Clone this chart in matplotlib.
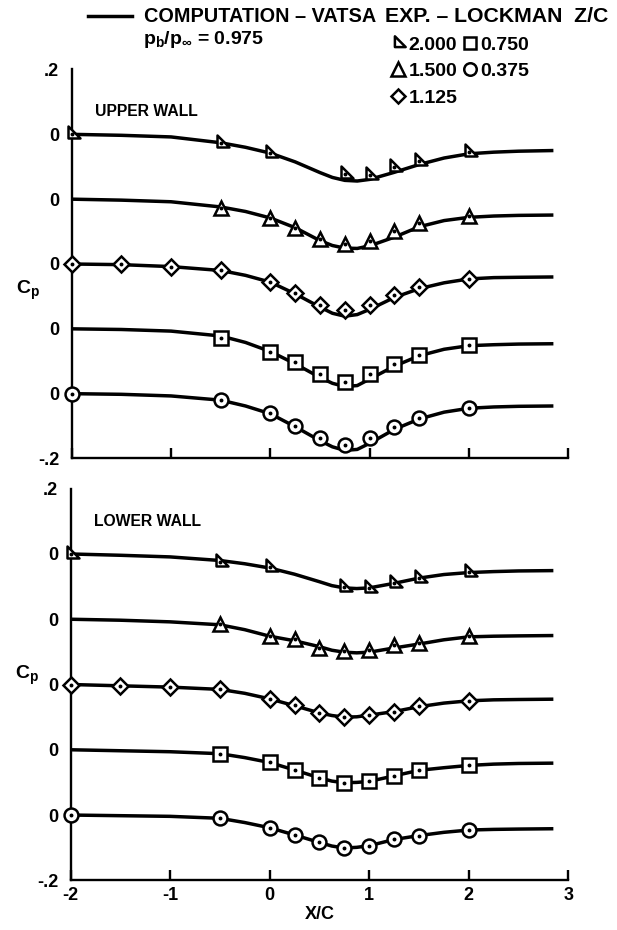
import matplotlib
matplotlib.use("Agg")
import matplotlib.pyplot as plt
from matplotlib.path import Path
from matplotlib.lines import Line2D
import numpy as np

plt.rcParams['font.family'] = ['Liberation Sans', 'DejaVu Sans']
plt.rcParams['font.weight'] = 'bold'
plt.rcParams['axes.unicode_minus'] = False
plt.rcParams['mathtext.fontset'] = 'custom'
plt.rcParams['mathtext.rm'] = 'Liberation Sans:bold'
plt.rcParams['mathtext.it'] = 'Liberation Sans:bold'
plt.rcParams['mathtext.bf'] = 'Liberation Sans:bold'

# ---- spanwise stations (Z/C) and stacking offsets ----
z_labels = ["2.000", "1.500", "1.125", "0.750", "0.375"]
z_offsets = [0.8, 0.6, 0.4, 0.2, 0.0]

# ---- computation (Vatsa) ----
x_comp = [-2, -1.5, -1, -0.5, -0.25, 0, 0.25, 0.5, 0.625, 0.75, 0.875, 1.0,
          1.25, 1.5, 1.75, 2.0, 2.25, 2.5, 2.85]

upper_comp_200 = [0, -0.003, -0.008, -0.026, -0.040, -0.058, -0.085, -0.118, -0.133, -0.142, -0.144, -0.139,
                  -0.117, -0.093, -0.073, -0.060, -0.055, -0.052, -0.050]
upper_comp_150 = [0, -0.003, -0.008, -0.024, -0.038, -0.058, -0.088, -0.128, -0.143, -0.151, -0.152, -0.144,
                  -0.117, -0.085, -0.066, -0.056, -0.052, -0.050, -0.049]
upper_comp_1125 = [0, -0.002, -0.008, -0.020, -0.035, -0.056, -0.092, -0.133, -0.152, -0.161, -0.156, -0.140,
                   -0.103, -0.076, -0.058, -0.046, -0.042, -0.041, -0.040]
upper_comp_075 = [0, -0.002, -0.007, -0.022, -0.042, -0.070, -0.108, -0.150, -0.168, -0.178, -0.175, -0.155,
                  -0.115, -0.083, -0.063, -0.052, -0.049, -0.047, -0.046]
upper_comp_0375 = [0, -0.002, -0.007, -0.020, -0.038, -0.062, -0.102, -0.145, -0.164, -0.175, -0.172, -0.153,
                   -0.110, -0.078, -0.057, -0.045, -0.041, -0.039, -0.038]

lower_comp_200 = [0, -0.004, -0.009, -0.020, -0.030, -0.043, -0.062, -0.085, -0.097, -0.104, -0.106, -0.104,
                  -0.090, -0.074, -0.063, -0.057, -0.054, -0.052, -0.051]
lower_comp_150 = [0, -0.003, -0.008, -0.017, -0.032, -0.052, -0.066, -0.084, -0.095, -0.101, -0.103, -0.101,
                  -0.088, -0.076, -0.063, -0.054, -0.052, -0.051, -0.050]
lower_comp_1125 = [0, -0.004, -0.008, -0.015, -0.027, -0.044, -0.065, -0.087, -0.095, -0.100, -0.099, -0.094,
                   -0.083, -0.068, -0.057, -0.050, -0.047, -0.046, -0.045]
lower_comp_075 = [0, -0.003, -0.006, -0.012, -0.024, -0.039, -0.062, -0.086, -0.096, -0.101, -0.100, -0.097,
                  -0.080, -0.063, -0.055, -0.048, -0.044, -0.042, -0.041]
lower_comp_0375 = [0, -0.002, -0.004, -0.010, -0.023, -0.039, -0.061, -0.084, -0.095, -0.101, -0.099, -0.094,
                   -0.075, -0.063, -0.053, -0.046, -0.044, -0.043, -0.042]

# ---- experiment (Lockman) ----
x_exp_200 = [-2, -0.5, 0, 0.75, 1.0, 1.25, 1.5, 2.0]
x_exp_150 = [-0.5, 0, 0.25, 0.5, 0.75, 1.0, 1.25, 1.5, 2.0]
x_exp_1125 = [-2, -1.5, -1, -0.5, 0, 0.25, 0.5, 0.75, 1.0, 1.25, 1.5, 2.0]
x_exp_075 = [-0.5, 0, 0.25, 0.5, 0.75, 1.0, 1.25, 1.5, 2.0]
x_exp_0375 = [-2, -0.5, 0, 0.25, 0.5, 0.75, 1.0, 1.25, 1.5, 2.0]

upper_exp_200 = [0, -0.027, -0.059, -0.121, -0.124, -0.102, -0.082, -0.054]
upper_exp_150 = [-0.026, -0.059, -0.088, -0.123, -0.139, -0.129, -0.098, -0.075, -0.052]
upper_exp_1125 = [0, 0, -0.010, -0.020, -0.056, -0.089, -0.125, -0.143, -0.127, -0.096, -0.072, -0.045]
upper_exp_075 = [-0.028, -0.070, -0.102, -0.140, -0.164, -0.140, -0.107, -0.080, -0.051]
upper_exp_0375 = [0, -0.020, -0.061, -0.100, -0.136, -0.158, -0.138, -0.102, -0.074, -0.043]

lower_exp_200 = [0, -0.024, -0.041, -0.102, -0.103, -0.088, -0.073, -0.056]
lower_exp_150 = [-0.015, -0.051, -0.061, -0.087, -0.097, -0.095, -0.080, -0.072, -0.051]
lower_exp_1125 = [0, -0.005, -0.008, -0.015, -0.044, -0.064, -0.087, -0.100, -0.093, -0.083, -0.067, -0.051]
lower_exp_075 = [-0.012, -0.038, -0.061, -0.087, -0.102, -0.097, -0.080, -0.063, -0.048]
lower_exp_0375 = [0, -0.010, -0.039, -0.061, -0.084, -0.102, -0.094, -0.074, -0.063, -0.046]

x_ticks = [-2, -1, 0, 1, 2, 3]
y_ticks = [-0.2, 0.0, 0.2, 0.4, 0.6, 0.8, 1.0]
y_ticklabels = ["-.2", "0", "0", "0", "0", "0", ".2"]

# right-angled triangle marker, centred on its centroid
tri_right = Path([(-2/3, -2/3), (4/3, -2/3), (-2/3, 4/3), (-2/3, -2/3)],
                 [Path.MOVETO, Path.LINETO, Path.LINETO, Path.CLOSEPOLY])
marker_styles = [(tri_right, 11.5), ('^', 10.5), ('D', 8), ('s', 9.5), ('o', 10)]

upper = dict(comp=[upper_comp_200, upper_comp_150, upper_comp_1125, upper_comp_075, upper_comp_0375],
             exp=[upper_exp_200, upper_exp_150, upper_exp_1125, upper_exp_075, upper_exp_0375])
lower = dict(comp=[lower_comp_200, lower_comp_150, lower_comp_1125, lower_comp_075, lower_comp_0375],
             exp=[lower_exp_200, lower_exp_150, lower_exp_1125, lower_exp_075, lower_exp_0375])
x_exp_all = [x_exp_200, x_exp_150, x_exp_1125, x_exp_075, x_exp_0375]

W, H = 617, 930
fig = plt.figure(figsize=(W / 100, H / 100), dpi=100)

def px_box(l, r, t, b):
    return [l / W, 1 - b / H, (r - l) / W, (b - t) / H]

ax_up = fig.add_axes(px_box(71.7, 568.3, 69.5, 458.5))
ax_lo = fig.add_axes(px_box(70.5, 568.3, 488.7, 880.3))

LW = 2.5
FS = 13
handles = []
for ax, data, title, title_y, cp_y, show_x in [
        (ax_up, upper, "UPPER WALL", 0.893, 0.433, False),
        (ax_lo, lower, "LOWER WALL", 0.915, 0.522, True)]:
    for i in range(5):
        off = z_offsets[i]
        ax.plot(x_comp, np.array(data['comp'][i]) + off, color='black', lw=LW,
                solid_capstyle='butt', zorder=2)
        mk, ms = marker_styles[i]
        yv = np.array(data['exp'][i]) + off
        h, = ax.plot(x_exp_all[i], yv, linestyle='none', marker=mk, ms=ms,
                     mfc='white', mec='black', mew=1.8, zorder=3, clip_on=False)
        ax.plot(x_exp_all[i], yv, linestyle='none', marker='o', ms=1.8,
                color='black', zorder=4, clip_on=False)
        if ax is ax_up:
            handles.append(h)
    ax.set_xlim(-2, 3)
    ax.set_ylim(-0.2, 1.0)
    for s in ['top', 'right']:
        ax.spines[s].set_visible(False)
    for s in ['left', 'bottom']:
        ax.spines[s].set_linewidth(1.7)
    ax.set_xticks(x_ticks)
    ax.tick_params(axis='x', direction='in', length=7, width=1.7, labelsize=FS, pad=5)
    if not show_x:
        ax.set_xticklabels([])
    ax.set_yticks(y_ticks)
    ax.set_yticklabels(y_ticklabels)
    ax.tick_params(axis='y', length=0, labelsize=FS, pad=9)
    ax.set_yticks([1.0], minor=True)
    ax.tick_params(axis='y', which='minor', direction='in', length=6, width=1.7)
    ax.text(0.047, title_y, title, transform=ax.transAxes, fontsize=11.3,
            fontweight='bold', ha='left', va='center')
    ax.text(-0.088, cp_y, r"C$_\mathregular{p}$", transform=ax.transAxes,
            fontsize=14, ha='center', va='center')

ax_lo.set_xlabel("X/C", fontsize=FS, fontweight='bold', labelpad=1)

# legend: computation
comp_handle = Line2D([], [], color='black', lw=LW)
fig.legend([comp_handle], ["COMPUTATION \u2013 VATSA"], loc='center left',
           bbox_to_anchor=(88 / W, 1 - 17 / H), frameon=False, fontsize=14.3,
           handlelength=2.2, handletextpad=0.6, borderpad=0, borderaxespad=0)
fig.text(143 / W, 1 - 40 / H, r"p$_\mathregular{b}$/p$_\mathregular{\infty}$ = 0.975",
         fontsize=14, ha='left', va='center')

# legend: experiment
fig.text(385 / W, 1 - 17 / H, "EXP. \u2013 LOCKMAN  Z/C", fontsize=15.3,
         fontweight='bold', ha='left', va='center')
leg = fig.legend(handles, z_labels, ncol=2, loc='center left',
                 bbox_to_anchor=(392 / W, 1 - 71.5 / H), frameon=False, fontsize=14,
                 handlelength=0.6, handletextpad=0.25,
                 columnspacing=0.35, labelspacing=0.45, borderpad=0, borderaxespad=0,
                 markerscale=0.9)

fig.savefig("out.png", dpi=100)
